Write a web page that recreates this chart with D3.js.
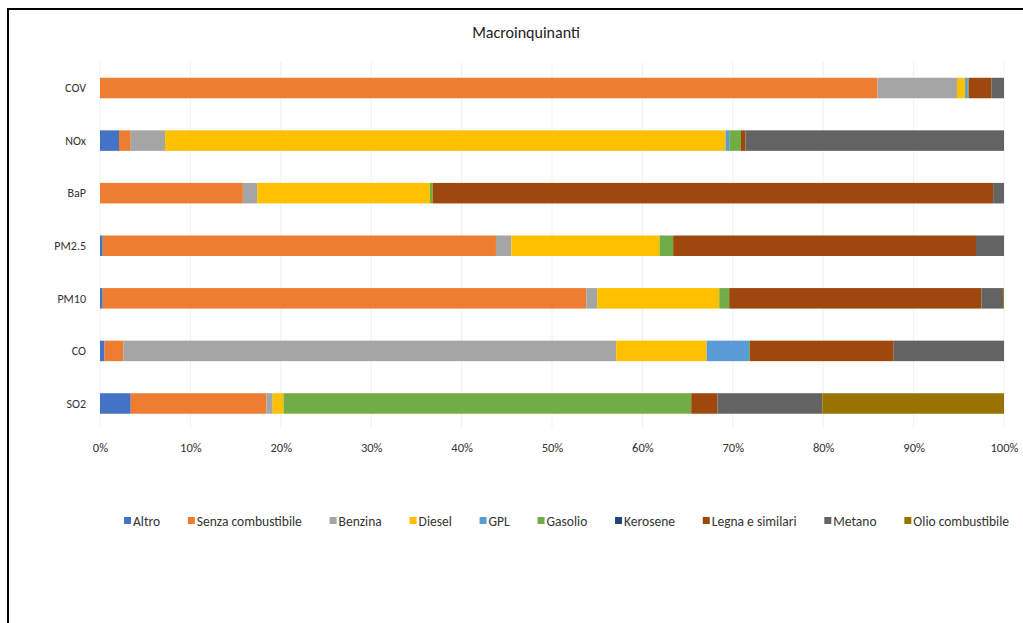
<!DOCTYPE html>
<html><head><meta charset="utf-8">
<script src="https://cdn.jsdelivr.net/npm/d3@7"></script>
<style>body{margin:0;background:#fff;}svg{display:block;}text{font-family:Carlito,"Open Sans",sans-serif;}</style>
</head><body>
<script>
const title = "Macroinquinanti";
const categories = ["COV","NOx","BaP","PM2.5","PM10","CO","SO2"];
const seriesNames = ["Altro","Senza combustibile","Benzina","Diesel","GPL","Gasolio","Kerosene","Legna e similari","Metano","Olio combustibile"];
const seriesColors = ["#4472C4","#ED7D31","#A5A5A5","#FFC000","#5B9BD5","#70AD47","#264478","#9E480E","#636363","#997300"];
// values in % per category, order follows seriesNames
const altro      = [0.0, 2.1, 0.0, 0.3, 0.3, 0.5, 3.4];
const senza      = [86.0, 1.3, 15.8, 43.5, 53.5, 2.1, 15.0];
const benzina    = [8.8, 3.8, 1.6, 1.7, 1.2, 54.5, 0.7];
const diesel     = [0.9, 62.0, 19.1, 16.4, 13.5, 10.0, 1.2];
const gpl        = [0.3, 0.4, 0.0, 0.0, 0.0, 4.7, 0.0];
const gasolio    = [0.1, 1.3, 0.3, 1.5, 1.1, 0.1, 45.1];
const kerosene   = [0.0, 0.0, 0.0, 0.0, 0.0, 0.0, 0.0];
const legna      = [2.5, 0.5, 62.0, 33.5, 27.9, 15.9, 2.9];
const metano     = [1.4, 28.6, 1.2, 3.1, 2.4, 12.2, 11.6];
const olio       = [0.0, 0.0, 0.0, 0.0, 0.1, 0.0, 20.1];
const tickValues = [0,0.1,0.2,0.3,0.4,0.5,0.6,0.7,0.8,0.9,1.0];

const seriesValues = [altro, senza, benzina, diesel, gpl, gasolio, kerosene, legna, metano, olio];
const table = categories.map((c,i)=>{
  const row = {cat:c};
  seriesNames.forEach((s,j)=>row[s]=seriesValues[j][i]);
  return row;
});

const W=1023,H=623;
const svg = d3.select("body").append("svg").attr("width",W).attr("height",H);
svg.append("rect").attr("width",W).attr("height",H).attr("fill","#fff");
// frame
svg.append("line").attr("x1",8).attr("x2",W).attr("y1",9).attr("y2",9).attr("stroke","#000").attr("stroke-width",2);
svg.append("line").attr("x1",8).attr("x2",8).attr("y1",8).attr("y2",H).attr("stroke","#000").attr("stroke-width",2);

const x = d3.scaleLinear().domain([0,1]).range([100,1004]);
const y = d3.scaleBand().domain(categories).range([62,429.5]).paddingInner(0.61).paddingOuter(0.3);

// gridlines
svg.append("g").selectAll("line").data(tickValues).join("line")
  .attr("x1",d=>x(d)).attr("x2",d=>x(d)).attr("y1",62).attr("y2",428)
  .attr("stroke","#f0f0f0").attr("stroke-width",1);

const stack = d3.stack().keys(seriesNames).value((d,k)=>d[k]/100);
const layers = stack(table);
svg.append("g").selectAll("g").data(layers).join("g")
  .attr("fill",(d,i)=>seriesColors[i])
  .selectAll("rect").data(d=>d).join("rect")
  .attr("x",d=>x(d[0])).attr("width",d=>Math.max(0,x(d[1])-x(d[0])))
  .attr("y",d=>y(d.data.cat)).attr("height",y.bandwidth());

// y labels
svg.append("g").selectAll("text").data(categories).join("text")
  .attr("x",86).attr("y",d=>y(d)+y.bandwidth()/2).attr("dy","0.35em")
  .attr("text-anchor","end").attr("font-size",12).attr("fill","#333").text(d=>d);

// x axis
const xAxis = d3.axisBottom(x).tickValues(tickValues).tickFormat(d3.format(".0%")).tickSize(0).tickPadding(0);
const gx = svg.append("g").attr("transform","translate(0,443)").call(xAxis);
gx.select(".domain").remove();
gx.selectAll("text").attr("font-size",12.5).attr("fill","#333").attr("font-family",'Carlito,"Open Sans",sans-serif');

// title
svg.append("text").attr("x",526).attr("y",38).attr("text-anchor","middle")
  .attr("font-size",16).attr("fill","#222").text(title);

// legend
const lg = svg.append("g").attr("transform","translate(0,521)");
const items = lg.selectAll("g").data(seriesNames).join("g");
items.append("rect").attr("width",7).attr("height",7).attr("y",-4).attr("fill",(d,i)=>seriesColors[i]);
items.append("text").attr("x",9).attr("dy","0.35em").attr("font-size",13.5).attr("fill","#333").text(d=>d);
let widths = [];
items.each(function(){ widths.push(this.querySelector("text").getComputedTextLength()+9); });
const startX = 124, endX = 1009;
const gap = (endX - startX - d3.sum(widths))/(widths.length-1);
let cx = startX;
items.attr("transform",(d,i)=>{ const t=`translate(${cx},0)`; cx += widths[i]+gap; return t; });
</script>
</body></html>
